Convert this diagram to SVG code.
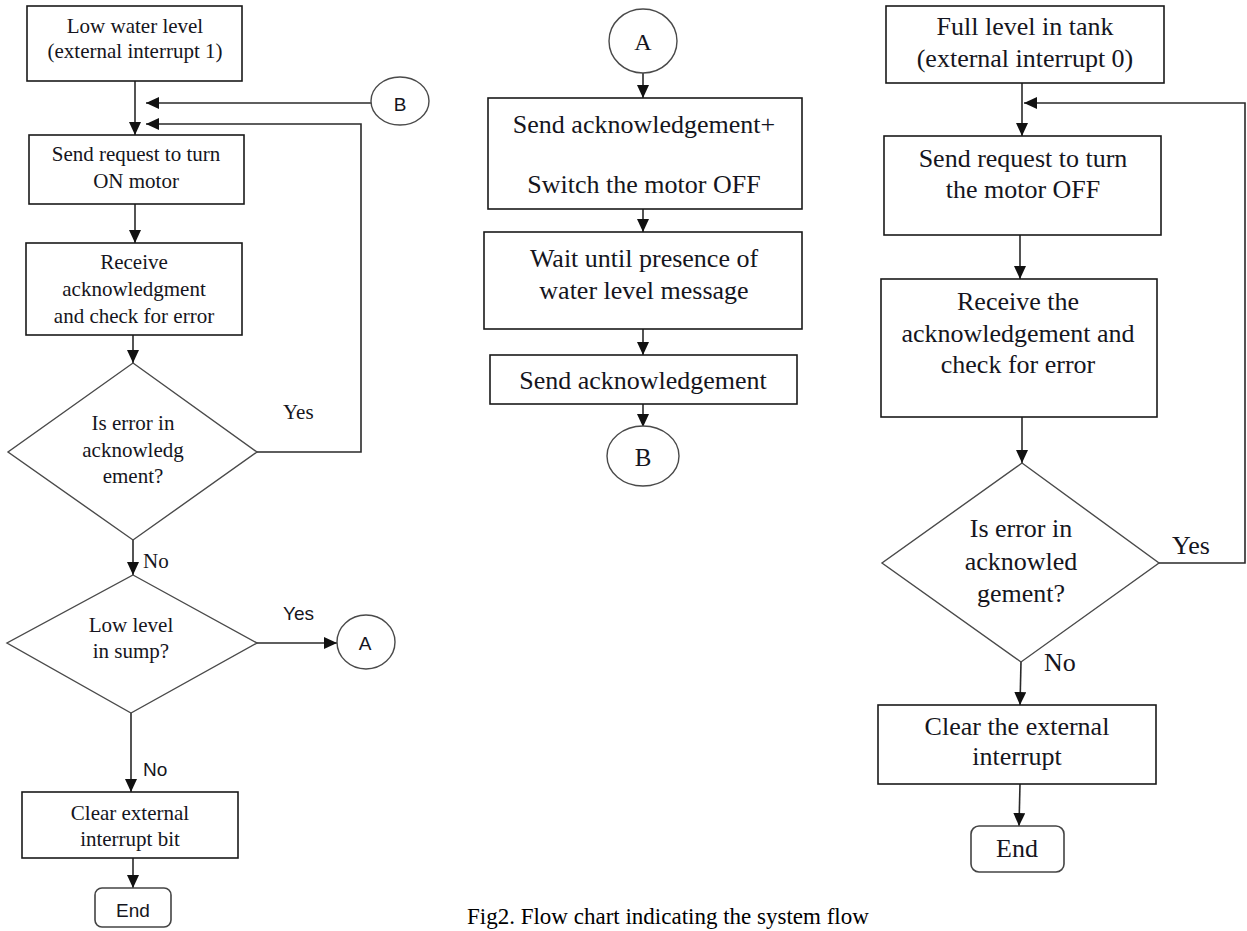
<svg xmlns="http://www.w3.org/2000/svg" width="1247" height="931" viewBox="0 0 1247 931">
<defs>
<style>
.box{fill:#fff;stroke:#1a1a1a;stroke-width:1.6}
.dia{fill:#fff;stroke:#4a4a4a;stroke-width:1.4}
.cir{fill:#fff;stroke:#4a4a4a;stroke-width:1.4}
.ln{fill:none;stroke:#2a2a2a;stroke-width:1.6}
.s21{font-family:"Liberation Serif","Times New Roman",serif;font-size:21px;fill:#151520;text-anchor:middle}
.s26{font-family:"Liberation Serif","Times New Roman",serif;font-size:26px;fill:#151520;text-anchor:middle}
.sans{font-family:"Liberation Sans",Arial,sans-serif;font-size:19px;fill:#151520;text-anchor:middle}
.lab21{font-family:"Liberation Serif","Times New Roman",serif;font-size:21px;fill:#151520}
.lab26{font-family:"Liberation Serif","Times New Roman",serif;font-size:26px;fill:#151520}
.labsans{font-family:"Liberation Sans",Arial,sans-serif;font-size:19px;fill:#151520}
.cap{font-family:"Liberation Serif","Times New Roman",serif;font-size:23px;fill:#000}
</style>
<marker id="ah" markerUnits="userSpaceOnUse" markerWidth="14" markerHeight="13" refX="13" refY="6" orient="auto">
<path d="M0,0 L13,6 L0,12 z" fill="#111"/>
</marker>
</defs>
<rect width="1247" height="931" fill="#fff"/>

<g id="connectors">
<line class="ln" x1="135" y1="81" x2="135" y2="135" marker-end="url(#ah)"/>
<line class="ln" x1="371" y1="103" x2="146" y2="103" marker-end="url(#ah)"/>
<polyline class="ln" points="257,452 361,452 361,124 146,124" marker-end="url(#ah)"/>
<line class="ln" x1="135" y1="204" x2="135" y2="243" marker-end="url(#ah)"/>
<line class="ln" x1="133" y1="335" x2="133" y2="363" marker-end="url(#ah)"/>
<line class="ln" x1="133" y1="540" x2="133" y2="575" marker-end="url(#ah)"/>
<line class="ln" x1="257" y1="643" x2="337" y2="643" marker-end="url(#ah)"/>
<line class="ln" x1="131" y1="713" x2="131" y2="792" marker-end="url(#ah)"/>
<line class="ln" x1="133" y1="858" x2="133" y2="888" marker-end="url(#ah)"/>

<line class="ln" x1="643" y1="73" x2="643" y2="98" marker-end="url(#ah)"/>
<line class="ln" x1="643" y1="209" x2="643" y2="232" marker-end="url(#ah)"/>
<line class="ln" x1="643" y1="329" x2="643" y2="355" marker-end="url(#ah)"/>
<line class="ln" x1="643" y1="404" x2="643" y2="427" marker-end="url(#ah)"/>

<line class="ln" x1="1022" y1="83" x2="1022" y2="136" marker-end="url(#ah)"/>
<polyline class="ln" points="1159,563 1245,563 1245,103 1024,103" marker-end="url(#ah)"/>
<line class="ln" x1="1020" y1="235" x2="1020" y2="279" marker-end="url(#ah)"/>
<line class="ln" x1="1022" y1="417" x2="1022" y2="463" marker-end="url(#ah)"/>
<line class="ln" x1="1021" y1="662" x2="1020" y2="705" marker-end="url(#ah)"/>
<line class="ln" x1="1020" y1="784" x2="1019" y2="826" marker-end="url(#ah)"/>

<text class="lab21" x="283" y="419">Yes</text>
<text class="lab21" x="143" y="568">No</text>
<text class="labsans" x="283" y="620">Yes</text>
<text class="labsans" x="143" y="776">No</text>
<text class="lab26" x="1172" y="554">Yes</text>
<text class="lab26" x="1044" y="671">No</text>
</g>

<g id="L1"><rect class="box" x="27" y="6" width="215" height="75"/>
<text class="s21" x="135" y="33">Low water level</text>
<text class="s21" x="135" y="58">(external interrupt 1)</text></g>

<g id="LB"><ellipse class="cir" cx="400" cy="101" rx="29" ry="24"/>
<text class="sans" x="400" y="111">B</text></g>

<g id="L2"><rect class="box" x="29" y="135" width="215" height="69"/>
<text class="s21" x="136" y="161">Send request to turn</text>
<text class="s21" x="136" y="188">ON motor</text></g>

<g id="L3"><rect class="box" x="26" y="243" width="216" height="92"/>
<text class="s21" x="134" y="269">Receive</text>
<text class="s21" x="134" y="296">acknowledgment</text>
<text class="s21" x="134" y="323">and check for error</text></g>

<g id="LD1"><polygon class="dia" points="133,363 257,452 133,540 8,452"/>
<text class="s21" x="133" y="430">Is error in</text>
<text class="s21" x="133" y="457">acknowledg</text>
<text class="s21" x="133" y="483">ement?</text></g>

<g id="LD2"><polygon class="dia" points="133,575 257,643 131,713 7,643"/>
<text class="s21" x="131" y="632">Low level</text>
<text class="s21" x="131" y="658">in sump?</text></g>

<g id="LA"><ellipse class="cir" cx="366" cy="642" rx="29" ry="27"/>
<text class="sans" x="365" y="650">A</text></g>

<g id="L4"><rect class="box" x="22" y="792" width="216" height="66"/>
<text class="s21" x="130" y="820">Clear external</text>
<text class="s21" x="130" y="846">interrupt bit</text></g>

<g id="LEnd"><rect class="box" x="95" y="888" width="76" height="39" rx="7" style="stroke:#444"/>
<text class="sans" x="133" y="917">End</text></g>

<g id="MA"><ellipse class="cir" cx="643" cy="41" rx="34" ry="32"/>
<text class="s26" x="643" y="50" style="font-size:24px">A</text></g>

<g id="M1"><rect class="box" x="488" y="98" width="314" height="111"/>
<text class="s26" x="644" y="133">Send acknowledgement+</text>
<text class="s26" x="644" y="193">Switch the motor OFF</text></g>

<g id="M2"><rect class="box" x="484" y="232" width="318" height="97"/>
<text class="s26" x="644" y="267">Wait until presence of</text>
<text class="s26" x="644" y="299">water level message</text></g>

<g id="M3"><rect class="box" x="490" y="355" width="307" height="49"/>
<text class="s26" x="643" y="389">Send acknowledgement</text></g>

<g id="MB"><ellipse class="cir" cx="643" cy="456" rx="36" ry="30"/>
<text class="s26" x="643" y="466" style="font-size:25px">B</text></g>

<g id="R1"><rect class="box" x="886" y="6" width="278" height="77"/>
<text class="s26" x="1025" y="35">Full level in tank</text>
<text class="s26" x="1025" y="67">(external interrupt 0)</text></g>

<g id="R2"><rect class="box" x="884" y="136" width="277" height="99"/>
<text class="s26" x="1023" y="167">Send request to turn</text>
<text class="s26" x="1023" y="198">the motor OFF</text></g>

<g id="R3"><rect class="box" x="881" y="279" width="276" height="138"/>
<text class="s26" x="1018" y="310">Receive the</text>
<text class="s26" x="1018" y="342">acknowledgement and</text>
<text class="s26" x="1018" y="373">check for error</text></g>

<g id="RD"><polygon class="dia" points="1022,463 1159,563 1021,662 882,563"/>
<text class="s26" x="1021" y="537">Is error in</text>
<text class="s26" x="1021" y="570">acknowled</text>
<text class="s26" x="1021" y="602">gement?</text></g>

<g id="R4"><rect class="box" x="878" y="705" width="278" height="79"/>
<text class="s26" x="1017" y="735">Clear the external</text>
<text class="s26" x="1017" y="765">interrupt</text></g>

<g id="REnd"><rect class="box" x="971" y="826" width="93" height="46" rx="8" style="stroke:#444"/>
<text class="s26" x="1017" y="857">End</text></g>

<text class="cap" x="467" y="924">Fig2. Flow chart indicating the system flow</text>
</svg>
